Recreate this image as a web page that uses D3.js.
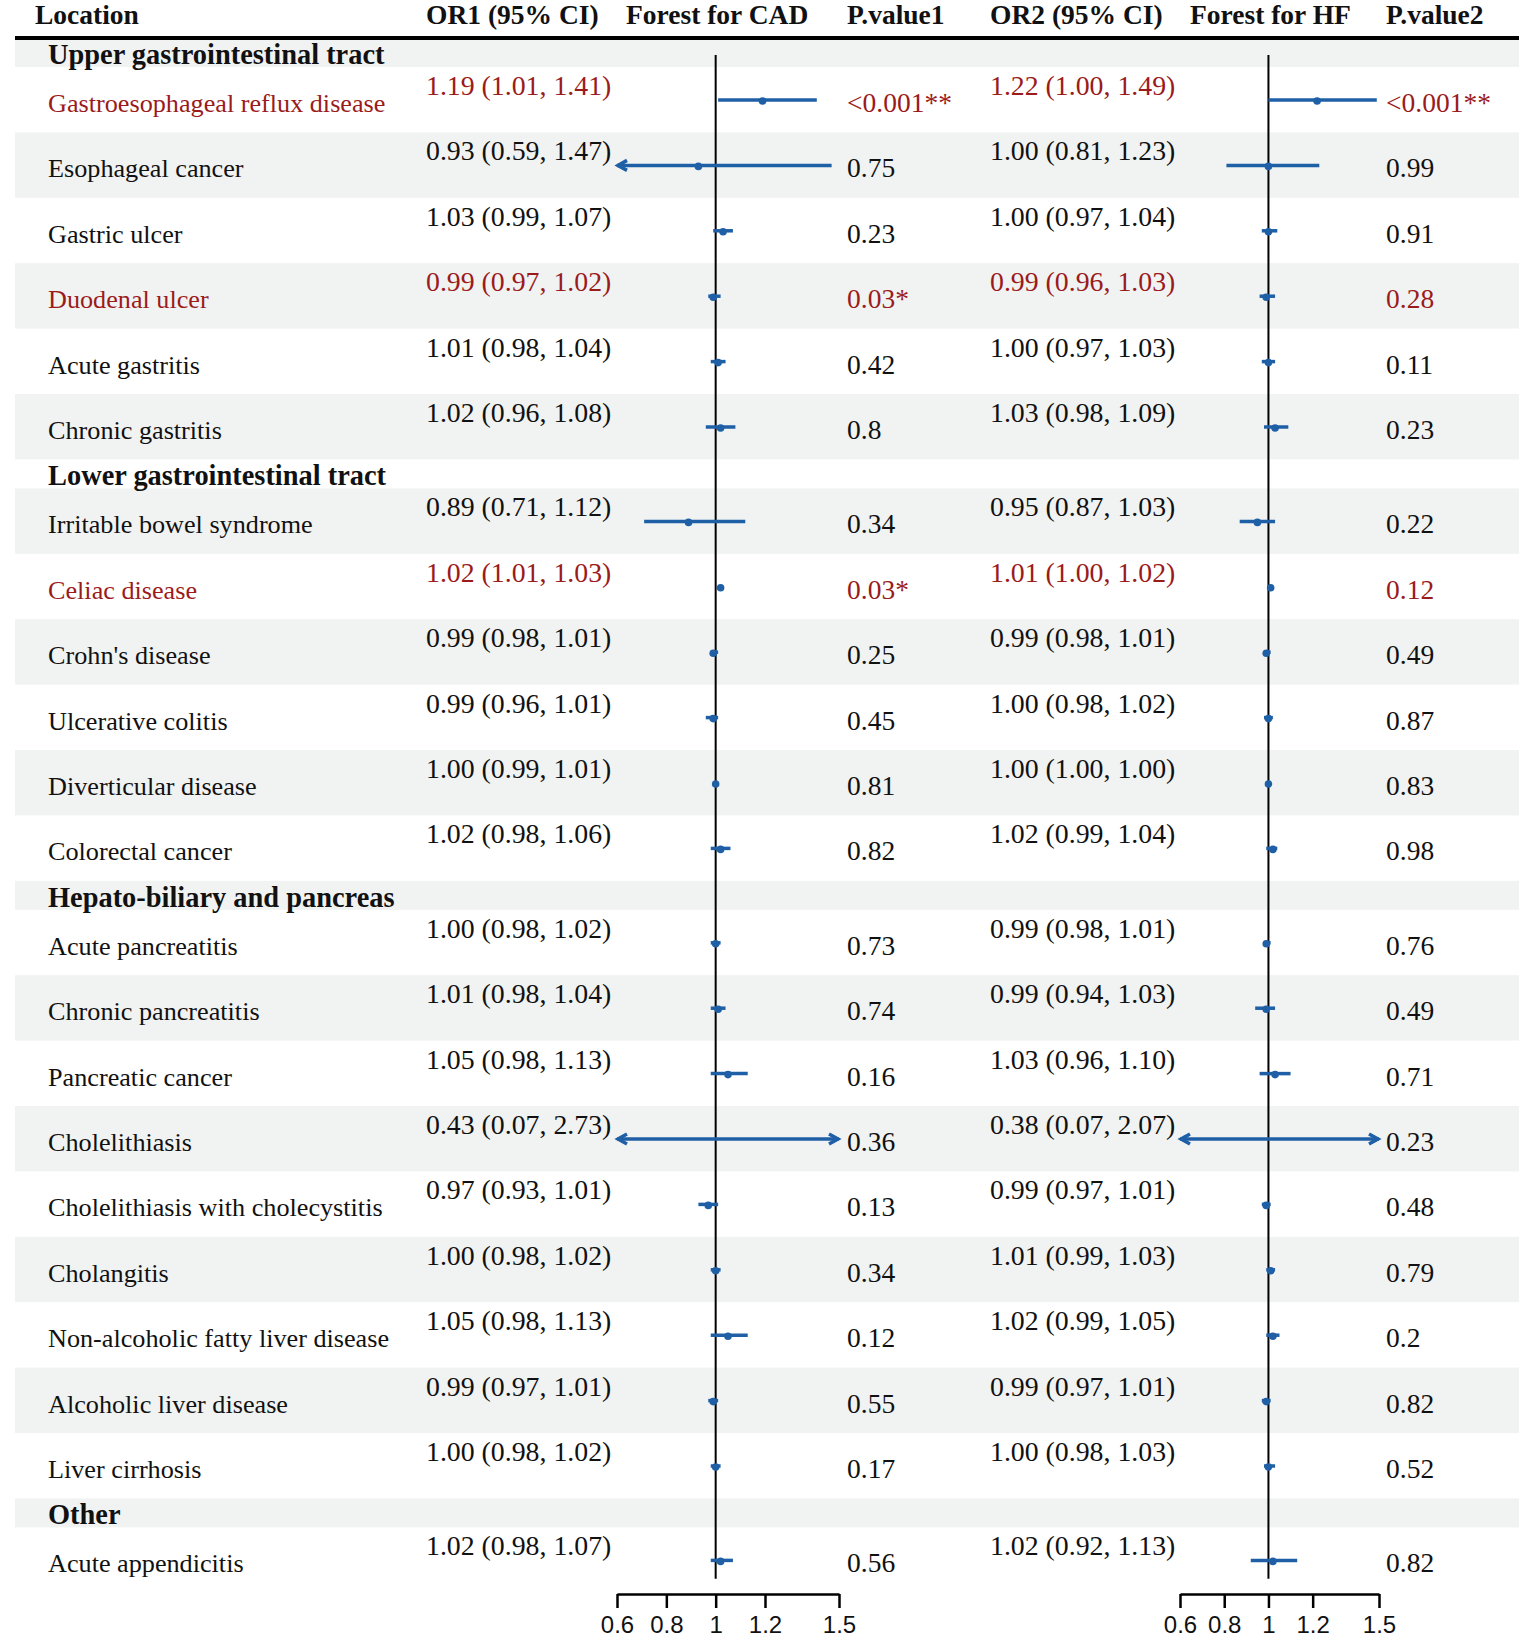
<!DOCTYPE html>
<html>
<head>
<meta charset="utf-8">
<script src="https://cdn.jsdelivr.net/npm/d3@7"></script>
<style>
  body { margin: 0; background: #fff; }
  text { font-family: "Liberation Serif", "Times New Roman", serif; }
</style>
</head>
<body>
<script>
// ---- data ----
var groupNames = ["Upper gastrointestinal tract", "Lower gastrointestinal tract",
                  "Hepato-biliary and pancreas", "Other"];
var groupCounts = [6, 6, 9, 1];

var rowLabels = [
  "Gastroesophageal reflux disease", "Esophageal cancer", "Gastric ulcer", "Duodenal ulcer",
  "Acute gastritis", "Chronic gastritis",
  "Irritable bowel syndrome", "Celiac disease", "Crohn's disease", "Ulcerative colitis",
  "Diverticular disease", "Colorectal cancer",
  "Acute pancreatitis", "Chronic pancreatitis", "Pancreatic cancer", "Cholelithiasis",
  "Cholelithiasis with cholecystitis", "Cholangitis", "Non-alcoholic fatty liver disease",
  "Alcoholic liver disease", "Liver cirrhosis",
  "Acute appendicitis"
];

var or1 = [1.19, 0.93, 1.03, 0.99, 1.01, 1.02, 0.89, 1.02, 0.99, 0.99, 1.00, 1.02,
           1.00, 1.01, 1.05, 0.43, 0.97, 1.00, 1.05, 0.99, 1.00, 1.02];
var lo1 = [1.01, 0.59, 0.99, 0.97, 0.98, 0.96, 0.71, 1.01, 0.98, 0.96, 0.99, 0.98,
           0.98, 0.98, 0.98, 0.07, 0.93, 0.98, 0.98, 0.97, 0.98, 0.98];
var hi1 = [1.41, 1.47, 1.07, 1.02, 1.04, 1.08, 1.12, 1.03, 1.01, 1.01, 1.01, 1.06,
           1.02, 1.04, 1.13, 2.73, 1.01, 1.02, 1.13, 1.01, 1.02, 1.07];
var p1 = ["<0.001**", "0.75", "0.23", "0.03*", "0.42", "0.8", "0.34", "0.03*", "0.25", "0.45",
          "0.81", "0.82", "0.73", "0.74", "0.16", "0.36", "0.13", "0.34", "0.12", "0.55",
          "0.17", "0.56"];

var or2 = [1.22, 1.00, 1.00, 0.99, 1.00, 1.03, 0.95, 1.01, 0.99, 1.00, 1.00, 1.02,
           0.99, 0.99, 1.03, 0.38, 0.99, 1.01, 1.02, 0.99, 1.00, 1.02];
var lo2 = [1.00, 0.81, 0.97, 0.96, 0.97, 0.98, 0.87, 1.00, 0.98, 0.98, 1.00, 0.99,
           0.98, 0.94, 0.96, 0.07, 0.97, 0.99, 0.99, 0.97, 0.98, 0.92];
var hi2 = [1.49, 1.23, 1.04, 1.03, 1.03, 1.09, 1.03, 1.02, 1.01, 1.02, 1.00, 1.04,
           1.01, 1.03, 1.10, 2.07, 1.01, 1.03, 1.05, 1.01, 1.03, 1.13];
var p2 = ["<0.001**", "0.99", "0.91", "0.28", "0.11", "0.23", "0.22", "0.12", "0.49", "0.87",
          "0.83", "0.98", "0.76", "0.49", "0.71", "0.23", "0.48", "0.79", "0.2", "0.82",
          "0.52", "0.82"];

var headers = ["Location", "OR1 (95% CI)", "Forest for CAD", "P.value1",
               "OR2 (95% CI)", "Forest for HF", "P.value2"];
var tickValues = [0.6, 0.8, 1, 1.2, 1.5];
var tickLabels = ["0.6", "0.8", "1", "1.2", "1.5"];

// ---- layout ----
var w = 1535, h = 1648;
var top0 = 38, headH = 29, rowH = 65.4;
var left = 15, right = 1519;
var headerX = [35, 426, 626, 847, 990, 1190, 1386];
var red = "#9b1b1b", blue = "#1f5fa6", band = "#f1f3f3";

var xCad = d3.scaleLinear().domain([0.6, 1.5]).range([617, 839]);
var xHf = d3.scaleLinear().domain([0.6, 1.5]).range([1180, 1379]);

// build the list of table lines (group headings + rows)
var lines = [];
var k = 0;
groupNames.forEach(function (g, gi) {
    lines.push({type: "head", text: g});
    for (var j = 0; j < groupCounts[gi]; j++) {
        lines.push({type: "row", i: k});
        k++;
    }
});
var y = top0;
lines.forEach(function (d, idx) {
    d.top = y;
    d.h = d.type === "head" ? headH : rowH;
    d.shade = idx % 2 === 0;
    y += d.h;
});
var bottom = y;
var rows = lines.filter(function (d) { return d.type === "row"; });

var svg = d3.select("body")
    .append("svg")
    .attr("width", w)
    .attr("height", h);

svg.append("rect").attr("width", w).attr("height", h).attr("fill", "#fff");

// stripes
svg.selectAll("rect.band")
    .data(lines.filter(function (d) { return d.shade; }))
    .enter()
    .append("rect")
    .attr("class", "band")
    .attr("x", left)
    .attr("y", function (d) { return d.top; })
    .attr("width", right - left)
    .attr("height", function (d) { return d.h; })
    .attr("fill", band);

// column headers
svg.selectAll("text.colhead")
    .data(headers)
    .enter()
    .append("text")
    .attr("class", "colhead")
    .attr("x", function (d, i) { return headerX[i]; })
    .attr("y", 24)
    .attr("font-size", 27.5)
    .attr("font-weight", "bold")
    .attr("fill", "#111")
    .text(function (d) { return d; });

svg.append("line")
    .attr("x1", left).attr("x2", right)
    .attr("y1", top0).attr("y2", top0)
    .attr("stroke", "#000")
    .attr("stroke-width", 4);

// group headings
svg.selectAll("text.group")
    .data(lines.filter(function (d) { return d.type === "head"; }))
    .enter()
    .append("text")
    .attr("class", "group")
    .attr("x", 48)
    .attr("y", function (d) { return d.top + 26; })
    .attr("font-size", 28.4)
    .attr("font-weight", "bold")
    .attr("fill", "#111")
    .text(function (d) { return d.text; });

function isRed(i) { return p1[i].indexOf("*") >= 0; }
function col(d) { return isRed(d.i) ? red : "#111"; }
function ci(o, l, u, i) { return o[i].toFixed(2) + " (" + l[i].toFixed(2) + ", " + u[i].toFixed(2) + ")"; }

var cells = [
    {x: 48, dy: 45, fs: 26.2, txt: function (i) { return rowLabels[i]; }},
    {x: 426, dy: 28, fs: 27.8, txt: function (i) { return ci(or1, lo1, hi1, i); }},
    {x: 847, dy: 45, fs: 27.5, txt: function (i) { return p1[i]; }},
    {x: 990, dy: 28, fs: 27.8, txt: function (i) { return ci(or2, lo2, hi2, i); }},
    {x: 1386, dy: 45, fs: 27.5, txt: function (i) { return p2[i]; }}
];
cells.forEach(function (c) {
    svg.append("g").selectAll("text")
        .data(rows)
        .enter()
        .append("text")
        .attr("x", c.x)
        .attr("y", function (d) { return d.top + c.dy; })
        .attr("font-size", c.fs)
        .attr("fill", col)
        .text(function (d) { return c.txt(d.i); });
});

// forest panels
function forest(x, est, lo, hi) {
    var g = svg.append("g");
    var d0 = x.domain()[0], d1 = x.domain()[1];

    g.append("line")
        .attr("x1", x(1)).attr("x2", x(1))
        .attr("y1", 55).attr("y2", bottom - 14)
        .attr("stroke", "#000")
        .attr("stroke-width", 2);

    rows.forEach(function (d) {
        var i = d.i, cy = d.top + 33;
        var a = Math.max(lo[i], d0), b = Math.min(hi[i], d1);
        g.append("line")
            .attr("x1", x(a)).attr("x2", x(b))
            .attr("y1", cy).attr("y2", cy)
            .attr("stroke", blue)
            .attr("stroke-width", 3.5);
        if (lo[i] < d0) {
            g.append("polyline")
                .attr("points", [[x(d0) + 10, cy - 5], [x(d0) + 1, cy], [x(d0) + 10, cy + 5]].join(" "))
                .attr("fill", "none").attr("stroke", blue).attr("stroke-width", 3.5);
        }
        if (hi[i] > d1) {
            g.append("polyline")
                .attr("points", [[x(d1) - 10, cy - 5], [x(d1) - 1, cy], [x(d1) - 10, cy + 5]].join(" "))
                .attr("fill", "none").attr("stroke", blue).attr("stroke-width", 3.5);
        }
        if (est[i] >= d0 && est[i] <= d1) {
            g.append("circle")
                .attr("cx", x(est[i]))
                .attr("cy", cy + 1)
                .attr("r", 3.8)
                .attr("fill", blue);
        }
    });

    var axis = d3.axisBottom(x)
        .tickValues(tickValues)
        .tickFormat(function (v, i) { return tickLabels[i]; })
        .tickSize(14)
        .tickSizeOuter(0)
        .tickPadding(8);
    var ax = svg.append("g")
        .attr("transform", "translate(0," + 1594 + ")")
        .call(axis);
    ax.select(".domain").attr("stroke", "#000").attr("stroke-width", 2.5);
    ax.selectAll(".tick line").attr("stroke", "#000").attr("stroke-width", 2.5);
    ax.selectAll(".tick text")
        .attr("fill", "#111")
        .style("font-family", "'Liberation Sans', Arial, sans-serif")
        .style("font-size", "24px");
}

forest(xCad, or1, lo1, hi1);
forest(xHf, or2, lo2, hi2);
</script>
</body>
</html>
